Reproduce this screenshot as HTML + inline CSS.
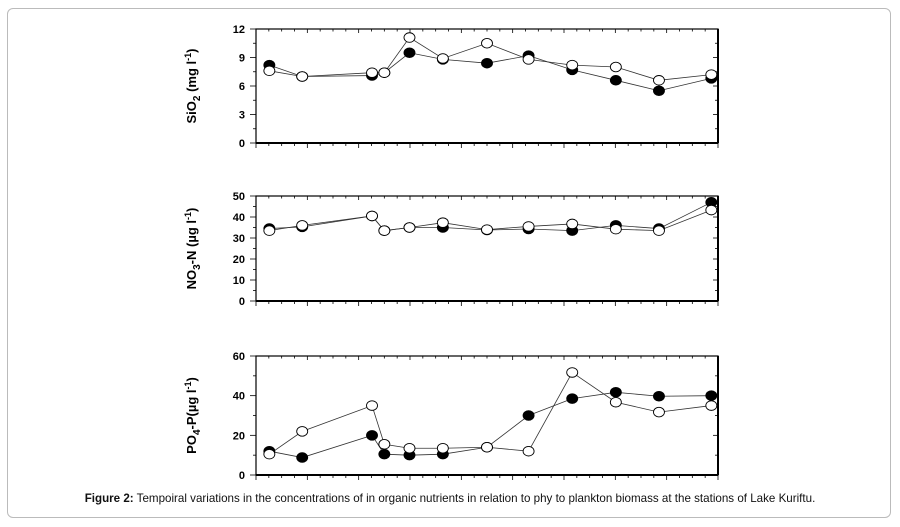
<!DOCTYPE html>
<html><head><meta charset="utf-8"><style>
html,body{margin:0;padding:0;background:#fff;width:900px;height:527px;overflow:hidden;font-family:"Liberation Sans",Arial,sans-serif}
#frame{position:absolute;left:7px;top:8px;width:884px;height:510px;border:1px solid #bbb;border-radius:6px;box-sizing:border-box}
#cap{position:absolute;left:0;width:900px;top:492px;text-align:center;font-size:11.6px;color:#111}
svg{position:absolute;left:0;top:0}
</style></head><body>
<div id="frame"></div>
<svg id="chart" width="900" height="527"></svg>
<div id="cap"><b>Figure 2:</b> Tempoiral variations in the concentrations of in organic nutrients in relation to phy to plankton biomass at the stations of Lake Kuriftu.</div>
<script>
const stations=[0.26,0.90,2.26,2.50,2.99,3.64,4.50,5.31,6.16,7.01,7.85,8.87];
const sio2Filled=[8.2,7.0,7.1,7.4,9.5,8.8,8.4,9.2,7.7,6.6,5.5,6.8];
const sio2Open=[7.6,7.0,7.4,7.4,11.1,8.9,10.5,8.8,8.2,8.0,6.6,7.2];
const no3Filled=[34.5,35.3,40.5,33.5,35,35,33.8,34.3,33.5,36,34.5,47];
const no3Open=[33.5,36,40.5,33.5,35,37.3,34,35.5,36.7,34.2,33.5,43.3];
const po4Filled=[12,8.8,20,10.5,10,10.5,14,30,38.5,41.7,39.7,40];
const po4Open=[10.5,22,35,15.5,13.5,13.5,14,12,51.7,36.7,31.7,35];
const sio2Ticks=[0,3,6,9,12];
const no3Ticks=[0,10,20,30,40,50];
const po4Ticks=[0,20,40,60];
const NS="http://www.w3.org/2000/svg";
const svg=document.getElementById('chart');
const X0=256,X1=718,XMAX=9;
function sx(v){return X0+(X1-X0)*v/XMAX;}
function mk(t,a,p){const e=document.createElementNS(NS,t);for(const k in a)e.setAttribute(k,a[k]);(p||svg).appendChild(e);return e;}
function panel(name,top,bot,max,ticks,filled,open,labelHTML){
  const g=mk('g',{});
  
  
  const sy=v=>bot-(bot-top)*v/max;
  mk('rect',{x:X0,y:top,width:X1-X0,height:bot-top,fill:'none',stroke:'#000','stroke-width':1.2},g);
  mk('line',{x1:X0,y1:bot,x2:X1,y2:bot,stroke:'#000','stroke-width':2},g);
  mk('line',{x1:X1,y1:top,x2:X1,y2:bot,stroke:'#000','stroke-width':2},g);
  for(let i=0;i<=XMAX*4;i++){const x=sx(i/4),maj=i%4==0;
    mk('line',{x1:x,y1:bot,x2:x,y2:bot+(maj?5:3),stroke:'#000','stroke-width':0.8},g);
    mk('line',{x1:x,y1:top,x2:x,y2:top+(maj?4:2.5),stroke:'#000','stroke-width':0.8},g);}
  const step=ticks[1]-ticks[0];
  for(let v=0;v<=max+1e-9;v+=step/2){const y=sy(v),maj=Math.abs((v/step)-Math.round(v/step))<1e-6;
    mk('line',{x1:X0-(maj?6:3),y1:y,x2:X0,y2:y,stroke:'#000','stroke-width':0.8},g);
    mk('line',{x1:X1-(maj?5:3),y1:y,x2:X1,y2:y,stroke:'#000','stroke-width':0.8},g);}
  ticks.forEach(v=>{const t=mk('text',{x:X0-11,y:sy(v)+4,'text-anchor':'end','font-size':11,'font-weight':'bold'},g);t.textContent=v;
    
    });
  const lab=mk('text',{transform:`translate(196,${(top+bot)/2}) rotate(-90)`,'text-anchor':'middle','font-size':13,'font-weight':'bold'},g);
  lab.innerHTML=labelHTML;
  
  
  [[filled,'#000','filled'],[open,'#fff','open']].forEach(([arr,fill,kind])=>{
    const pts=arr.map((v,i)=>sx(stations[i])+','+sy(v)).join(' ');
    const pl=mk('polyline',{points:pts,fill:'none',stroke:'#333','stroke-width':0.8},g);
    
    
  });
  [[filled,'#000','filled'],[open,'#fff','open']].forEach(([arr,fill,kind])=>{
    arr.forEach((v,i)=>{const c=mk('ellipse',{cx:sx(stations[i]),cy:sy(v),rx:5.5,ry:4.8,fill:fill,stroke:'#000','stroke-width':0.9},g);
      
      });
  });
}
panel('sio2',29,143,12,sio2Ticks,sio2Filled,sio2Open,'SiO<tspan font-size="10" dy="4">2</tspan><tspan dy="-4"> (mg l</tspan><tspan font-size="9" dy="-5">-1</tspan><tspan dy="5">)</tspan>');
panel('no3',196,301,50,no3Ticks,no3Filled,no3Open,'NO<tspan font-size="10" dy="4">3</tspan><tspan dy="-4">-N (µg l</tspan><tspan font-size="9" dy="-5">-1</tspan><tspan dy="5">)</tspan>');
panel('po4',356,475,60,po4Ticks,po4Filled,po4Open,'PO<tspan font-size="10" dy="4">4</tspan><tspan dy="-4">-P(µg l</tspan><tspan font-size="9" dy="-5">-1</tspan><tspan dy="5">)</tspan>');
</script>
</body></html>
